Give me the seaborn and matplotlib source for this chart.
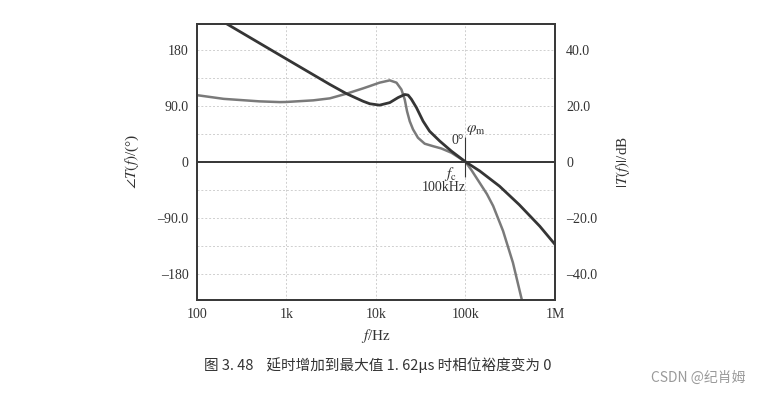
import numpy as np
import pandas as pd
import matplotlib
matplotlib.use("Agg")
import matplotlib.pyplot as plt
import seaborn as sns

# values
freq_mag = [214, 1000, 3060, 4700, 7190, 8550, 11000, 14300, 17700,
            21000, 22900, 24950, 28400, 33650, 39800, 51600, 69700, 100000,
            144500, 240000, 398000, 676000, 1000000]
mag_db = [49.3, 36.7, 27.6, 24.3, 21.6, 20.7, 20.2, 21.1, 22.9,
          24.0, 23.8, 22.3, 19.3, 14.5, 10.9, 7.4, 3.8, 0.0,
          -3.3, -8.7, -15.3, -23.0, -29.5]

freq_ph = [100, 200, 500, 849, 1000, 2000, 3060, 4700, 7190, 8550, 11000,
           14300, 17000, 19300, 21000, 22300, 23900, 26000, 29500, 35100,
           43500, 53700, 69700, 100000, 117500, 144500, 174000, 204000,
           263000, 339000, 417000, 432000]
phase_deg = [107, 101, 97, 95.8, 96, 98.6, 101.8, 109.3, 117.8, 121.5, 127,
             130.7, 127, 116, 100, 81, 65, 52, 38.6, 29,
             25, 21.4, 14.5, 0, -14, -34, -52, -71,
             -111, -162, -216, -225]

x_ticks = [100, 1e3, 1e4, 1e5, 1e6]
x_labels = ["100", "1k", "10k", "100k", "1M"]
ph_ticks = [180, 90, 0, -90, -180]
ph_labels = ["180", "90.0", "0", "\u201390.0", "\u2013180"]
db_ticks = [40, 20, 0, -20, -40]
db_labels = ["40.0", "20.0", "0", "\u201320.0", "\u201340.0"]

sns.set_style("white")
plt.rcParams["font.family"] = ["Liberation Serif", "DejaVu Serif"]
plt.rcParams["mathtext.fontset"] = "stix"

DARK = "#353535"
GRAY = "#7a7a7a"
TXT = "#333333"

fig = plt.figure(figsize=(7.63, 3.93), dpi=100)
ax = fig.add_axes([0.2578, 0.2366, 0.4696, 0.7036])
ax2 = ax.twinx()

mag = pd.DataFrame({"f": freq_mag, "db": mag_db})
ph = pd.DataFrame({"f": freq_ph, "deg": phase_deg})

sns.lineplot(data=ph, x="f", y="deg", ax=ax, color=GRAY, lw=1.8,
             estimator=None, solid_joinstyle="round")
sns.lineplot(data=mag, x="f", y="db", ax=ax2, color=DARK, lw=2.0,
             estimator=None, solid_joinstyle="round")

for a in (ax, ax2):
    a.set_xscale("log")
    a.set_xlim(100, 1e6)
ax.set_ylim(-222, 222)
ax2.set_ylim(-222 / 4.5, 222 / 4.5)

ax.set_xticks(x_ticks)
ax.set_xticklabels(x_labels, fontsize=10)
ax.xaxis.set_minor_locator(matplotlib.ticker.NullLocator())
ax.set_yticks(ph_ticks)
ax.set_yticklabels(ph_labels, fontsize=10)
ax.set_yticks([135, 45, -45, -135], minor=True)
ax2.set_yticks(db_ticks)
ax2.set_yticklabels(db_labels, fontsize=10)
ax.tick_params(axis="both", which="both", length=0, pad=6, colors=TXT)
ax2.tick_params(axis="both", which="both", length=0, pad=8, colors=TXT)

ax.grid(True, which="both", axis="y", color="#cfcfcf", ls=(0, (2, 2)), lw=0.7)
ax.grid(True, which="major", axis="x", color="#cfcfcf", ls=(0, (2, 2)), lw=0.7)
ax.axhline(0, color=DARK, lw=1.4, zorder=1)

for a in (ax, ax2):
    for s in a.spines.values():
        s.set_color("#3a3a3a")
        s.set_linewidth(1.4)

ax.set_xlabel("$f$/Hz", fontsize=11, labelpad=4, color=TXT)
ax.set_ylabel(r"$\angle T(f)$/(°)", fontsize=11, labelpad=12, color=TXT)
ax2.set_ylabel(r"$|T(f)|$/dB", fontsize=11, labelpad=12, rotation=90, color=TXT)

# crossover annotation at 100 kHz
ax.vlines(1e5, -24, 40, color=DARK, lw=0.8)
ax.text(1.02e5, 48, r"$\varphi_\mathrm{m}$", fontsize=11, color=TXT)
ax.text(0.97e5, 28, "0°", fontsize=10, ha="right", color=TXT)
ax.text(0.80e5, -20, r"$f_\mathrm{c}$", fontsize=11, ha="right", va="center", color=TXT)
ax.text(1.0e5, -42, "100kHz", fontsize=10, ha="right", va="center", color=TXT)

fig.text(0.495, 0.072, "图 3. 48    延时增加到最大值 1. 62μs 时相位裕度变为 0",
         ha="center", va="center", fontsize=10.5, color=TXT,
         family=["Noto Sans CJK SC", "DejaVu Sans"])
fig.text(0.915, 0.04, "CSDN @纪肖姆", ha="center", va="center", fontsize=10,
         color="#9a9a9a", family=["Noto Sans CJK SC", "DejaVu Sans"])

fig.savefig("out.png", dpi=100)
